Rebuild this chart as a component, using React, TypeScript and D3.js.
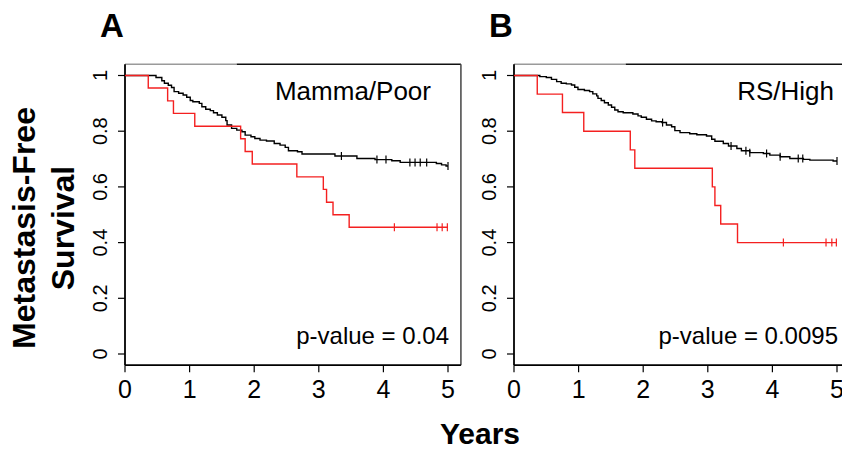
import React from "react";
import * as d3 from "d3";

const W = 842;
const H = 449;
const FONT = "'Liberation Sans', Arial, Helvetica, sans-serif";

const xTicks = [0, 1, 2, 3, 4, 5];
const yTicks = [0, 0.2, 0.4, 0.6, 0.8, 1];
const yTickLabels = ["0", "0.2", "0.4", "0.6", "0.8", "1"];

// Panel A (Mamma/Poor) - reference group (black)
const aRefTime = [0, 0.48, 0.57, 0.61, 0.67, 0.72, 0.76, 0.83, 0.9, 0.955, 1.01, 1.05, 1.15, 1.19, 1.25, 1.32, 1.37, 1.43, 1.5, 1.56, 1.58, 1.65, 1.73, 1.81, 1.86, 1.95, 2.01, 2.09, 2.19, 2.31, 2.4, 2.48, 2.53, 2.67, 2.74, 3.25, 3.59, 3.87, 4.13, 4.26, 4.82, 4.9, 4.97];
const aRefSurv = [1, 0.993, 0.981, 0.972, 0.965, 0.957, 0.942, 0.936, 0.93, 0.922, 0.91, 0.906, 0.9, 0.888, 0.879, 0.874, 0.866, 0.858, 0.85, 0.838, 0.822, 0.81, 0.804, 0.798, 0.786, 0.78, 0.774, 0.768, 0.765, 0.756, 0.75, 0.742, 0.73, 0.726, 0.718, 0.711, 0.702, 0.698, 0.694, 0.688, 0.684, 0.679, 0.675];
const aRefCensor = [3.35, 3.9, 4.04, 4.41, 4.49, 4.57, 4.67, 5.0];

// Panel A - Mamma/Poor group (red)
const aHitTime = [0, 0.36, 0.66, 0.75, 1.08, 1.79, 1.86, 1.97, 2.66, 3.07, 3.12, 3.22, 3.47];
const aHitSurv = [1, 0.955, 0.909, 0.864, 0.818, 0.773, 0.727, 0.682, 0.636, 0.591, 0.545, 0.5, 0.455];
const aHitCensor = [4.17, 4.83, 4.91, 4.99];

// Panel B (RS/High) - reference group (black)
const bRefTime = [0, 0.4, 0.5, 0.58, 0.66, 0.73, 0.81, 0.89, 0.94, 0.99, 1.09, 1.17, 1.22, 1.28, 1.3, 1.35, 1.4, 1.46, 1.51, 1.56, 1.61, 1.69, 1.84, 1.92, 1.97, 2.05, 2.13, 2.2, 2.29, 2.36, 2.44, 2.49, 2.57, 2.72, 2.83, 2.98, 3.06, 3.11, 3.24, 3.32, 3.45, 3.52, 3.65, 3.86, 3.96, 4.12, 4.27, 4.48, 4.58, 4.94];
const bRefSurv = [1, 0.996, 0.993, 0.986, 0.978, 0.972, 0.97, 0.966, 0.958, 0.95, 0.946, 0.942, 0.934, 0.927, 0.918, 0.91, 0.902, 0.894, 0.886, 0.876, 0.87, 0.866, 0.862, 0.855, 0.85, 0.843, 0.837, 0.834, 0.831, 0.822, 0.816, 0.802, 0.795, 0.791, 0.787, 0.783, 0.771, 0.764, 0.756, 0.747, 0.738, 0.73, 0.723, 0.72, 0.714, 0.708, 0.702, 0.699, 0.696, 0.693];
const bRefCensor = [2.3, 3.36, 3.59, 3.65, 3.91, 4.12, 4.4, 4.47, 5.0];

// Panel B - RS/High group (red)
const bHitTime = [0, 0.36, 0.75, 1.08, 1.8, 1.87, 3.07, 3.11, 3.2, 3.46];
const bHitSurv = [1, 0.933, 0.867, 0.8, 0.733, 0.667, 0.6, 0.533, 0.467, 0.4];
const bHitCensor = [4.17, 4.83, 4.92, 4.99];

type Curve = { time: number[]; surv: number[]; censor: number[]; color: string };

function survAt(c: Curve, t: number) {
  const i = d3.bisectRight(c.time, t) - 1;
  return c.surv[Math.max(0, i)];
}

function Panel({ left, letter, group, groupRight, pval, curves }: { left: number; letter: string; group: string; groupRight: number; pval: string; curves: Curve[] }) {
  const x = d3.scaleLinear().domain([0, 5]).range([left, left + 5 * 64.6]);
  const y = d3.scaleLinear().domain([0, 1]).range([354, 75.5]);
  const x0 = x(0), x1 = x(5.2);
  const yTop = y(1.04), yBot = y(-0.04);
  const line = d3.line<[number, number]>().x(d => x(d[0])).y(d => y(d[1])).curve(d3.curveStepAfter);

  return (
    <g>
      <text x={left - 25} y={37} fontFamily={FONT} fontWeight="bold" fontSize={33}>{letter}</text>
      {/* box */}
      <line x1={x0} x2={x(1.73)} y1={yTop} y2={yTop} stroke="#9a9a9a" strokeWidth={1.5} />
      <line x1={x(1.73)} x2={x1} y1={yTop} y2={yTop} stroke="#111" strokeWidth={1.5} />
      <line x1={x1} x2={x1} y1={yTop} y2={yBot} stroke="#444" strokeWidth={1.5} />
      <line x1={x0} x2={x0} y1={yTop} y2={yBot} stroke="#000" strokeWidth={1.8} />
      <line x1={x0} x2={x1} y1={yBot} y2={yBot} stroke="#000" strokeWidth={1.8} />
      {yTicks.map((v, i) => (
        <g key={"y" + i}>
          <line x1={x0 - 7} x2={x0} y1={y(v)} y2={y(v)} stroke="#000" strokeWidth={1.2} />
          <text transform={`translate(${x0 - 18},${y(v)}) rotate(-90)`} textAnchor="middle" fontFamily={FONT} fontSize={20}>{yTickLabels[i]}</text>
        </g>
      ))}
      {xTicks.map(v => (
        <g key={"x" + v}>
          <line x1={x(v)} x2={x(v)} y1={yBot} y2={yBot + 7} stroke="#000" strokeWidth={1.2} />
          <text x={x(v)} y={398} textAnchor="middle" fontFamily={FONT} fontSize={25}>{v}</text>
        </g>
      ))}
      {curves.map((c, k) => {
        const pts: [number, number][] = c.time.map((t, i) => [t, c.surv[i]] as [number, number]);
        pts.push([5.0, c.surv[c.surv.length - 1]]);
        return (
          <g key={"c" + k}>
            <path d={line(pts) || ""} fill="none" stroke={c.color} strokeWidth={1.4} />
            {c.censor.map((t, j) => (
              <line key={j} x1={x(t)} x2={x(t)} y1={y(survAt(c, t)) - 4} y2={y(survAt(c, t)) + 4} stroke={c.color} strokeWidth={1.2} />
            ))}
          </g>
        );
      })}
      <text x={groupRight} y={100} textAnchor="end" fontFamily={FONT} fontSize={26}>{group}</text>
      <text x={x(5) + 1} y={344} textAnchor="end" fontFamily={FONT} fontSize={24}>{pval}</text>
    </g>
  );
}

export default function App() {
  const red = "#f42020";
  return (
    <svg width={W} height={H} style={{ position: "absolute", left: 0, top: 0, background: "#fff" }}>
      <rect width={W} height={H} fill="#fff" />
      <Panel
        left={125}
        letter="A"
        group="Mamma/Poor"
        groupRight={431}
        pval="p-value = 0.04"
        curves={[
          { time: aRefTime, surv: aRefSurv, censor: aRefCensor, color: "#000" },
          { time: aHitTime, surv: aHitSurv, censor: aHitCensor, color: red },
        ]}
      />
      <Panel
        left={514}
        letter="B"
        group="RS/High"
        groupRight={834}
        pval="p-value = 0.0095"
        curves={[
          { time: bRefTime, surv: bRefSurv, censor: bRefCensor, color: "#000" },
          { time: bHitTime, surv: bHitSurv, censor: bHitCensor, color: red },
        ]}
      />
      <text transform="translate(35,228) rotate(-90)" textAnchor="middle" fontFamily={FONT} fontWeight="bold" fontSize={32}>Metastasis-Free</text>
      <text transform="translate(74,228) rotate(-90)" textAnchor="middle" fontFamily={FONT} fontWeight="bold" fontSize={32}>Survival</text>
      <text x={480} y={444} textAnchor="middle" fontFamily={FONT} fontWeight="bold" fontSize={30}>Years</text>
    </svg>
  );
}
